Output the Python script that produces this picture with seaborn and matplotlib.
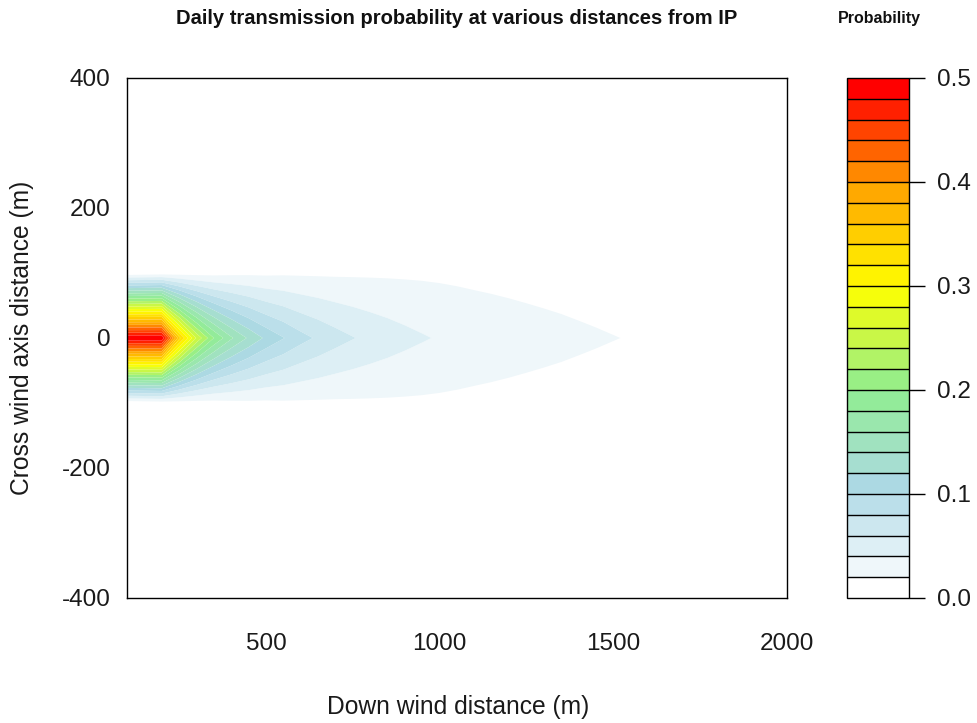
import numpy as np
import matplotlib
matplotlib.use("Agg")
import matplotlib.pyplot as plt
import seaborn as sns

# ---------------- data ----------------
x_down = [100, 150, 200, 250, 300, 350, 400, 450, 500, 550, 600, 650, 700,
          750, 800, 850, 900, 950, 1000, 1050, 1100, 1150, 1200, 1250, 1300,
          1350, 1400, 1450, 1500, 1550, 1600, 1650, 1700, 1750, 1800, 1850,
          1900, 1950, 2000]
y_cross = [-400, -300, -200, -100, 0, 100, 200, 300, 400]

# probability on the wind axis (y = 0)
p_axis = [0.500, 0.500, 0.500, 0.347, 0.257, 0.200, 0.163, 0.137, 0.116,
          0.101, 0.087, 0.077, 0.068, 0.061, 0.055, 0.050, 0.0455, 0.0417,
          0.0384, 0.0356, 0.0331, 0.0309, 0.0289, 0.0271, 0.0255, 0.0241,
          0.0227, 0.0215, 0.0204, 0.0194, 0.0185, 0.0177, 0.0169, 0.0161,
          0.0154, 0.0148, 0.0142, 0.0137, 0.0132]
# probability at +/-100 m cross wind
p_side = [0.005, 0.007, 0.009, 0.011, 0.012, 0.013, 0.015, 0.016, 0.016,
          0.017, 0.017, 0.017, 0.017, 0.0172, 0.0173, 0.0173, 0.0172, 0.017,
          0.0166, 0.0160, 0.0153, 0.0148, 0.0143, 0.0138, 0.0134, 0.0130,
          0.0126, 0.0122, 0.0118, 0.0115, 0.0112, 0.0109, 0.0106, 0.0104,
          0.0102, 0.0100, 0.0098, 0.0096, 0.0094]
p_far = [0.0] * len(x_down)

prob_ticks = [0.0, 0.1, 0.2, 0.3, 0.4, 0.5]
prob_tick_labels = ["0.0", "0.1", "0.2", "0.3", "0.4", "0.5"]
x_ticks = [500, 1000, 1500, 2000]
y_ticks = [-400, -200, 0, 200, 400]
y_tick_labels = ["-400", "-200", "0", "200", "400"]

title = "Daily transmission probability at various distances from IP"
cbar_title = "Probability"
x_label = "Down wind distance (m)"
y_label = "Cross wind axis distance (m)"

# ---------------- table ----------------
rows = {-400: p_far, -300: p_far, -200: p_far, -100: p_side, 0: p_axis,
        100: p_side, 200: p_far, 300: p_far, 400: p_far}
Z = np.array([rows[y] for y in y_cross])

# ---------------- style ----------------
sns.set_style("white")
plt.rcParams['font.family'] = ['Liberation Sans', 'DejaVu Sans']
plt.rcParams['axes.unicode_minus'] = False

levels = np.linspace(0, 0.5, 26)
colors = sns.blend_palette(["white", "lightblue", "lightgreen", "yellow",
                            "orange", "red"], n_colors=25)

fig = plt.figure(figsize=(9.77, 7.23), dpi=100)
ax = fig.add_axes([127 / 977, 1 - 598 / 723, 660 / 977, 520 / 723])
cax = fig.add_axes([847 / 977, 1 - 598 / 723, 62 / 977, 520 / 723])

cf = ax.contourf(x_down, y_cross, Z, levels=levels, colors=colors,
                 antialiased=True)

ax.set_xlim(100, 2000)
ax.set_ylim(-400, 400)
ax.set_xticks(x_ticks)
ax.set_yticks(y_ticks)
ax.set_yticklabels(y_tick_labels)
ax.tick_params(axis='both', direction='out', length=10, width=1,
               color='black', labelsize=17.5, labelcolor='#1a1a1a')
ax.tick_params(axis='x', pad=15)
ax.tick_params(axis='y', pad=2)
for s in ax.spines.values():
    s.set_color('black')
    s.set_linewidth(1)

cb = fig.colorbar(cf, cax=cax, drawedges=True, ticks=prob_ticks)
cb.dividers.set_color('black')
cb.dividers.set_linewidth(1)
cb.outline.set_edgecolor('black')
cb.outline.set_linewidth(1)
cax.yaxis.set_ticks_position('right')
cax.set_yticklabels(prob_tick_labels)
cax.tick_params(axis='y', direction='out', length=11.5, width=1,
                color='black', labelsize=17.5, labelcolor='#1a1a1a', pad=9)

fig.text(457 / 977, 1 - 18 / 723, title, ha='center', va='center',
         fontweight='bold', fontsize=14.5, color='#111111')
fig.text(879 / 977, 1 - 18 / 723, cbar_title, ha='center', va='center',
         fontweight='bold', fontsize=11.5, color='#111111')
fig.text(458 / 977, 1 - 707 / 723, x_label, ha='center', va='center',
         fontsize=17.7, color='#1a1a1a')
fig.text(22 / 977, 1 - 338 / 723, y_label, ha='center', va='center',
         rotation=90, fontsize=17.7, color='#1a1a1a')

fig.savefig("out.png", dpi=100)
